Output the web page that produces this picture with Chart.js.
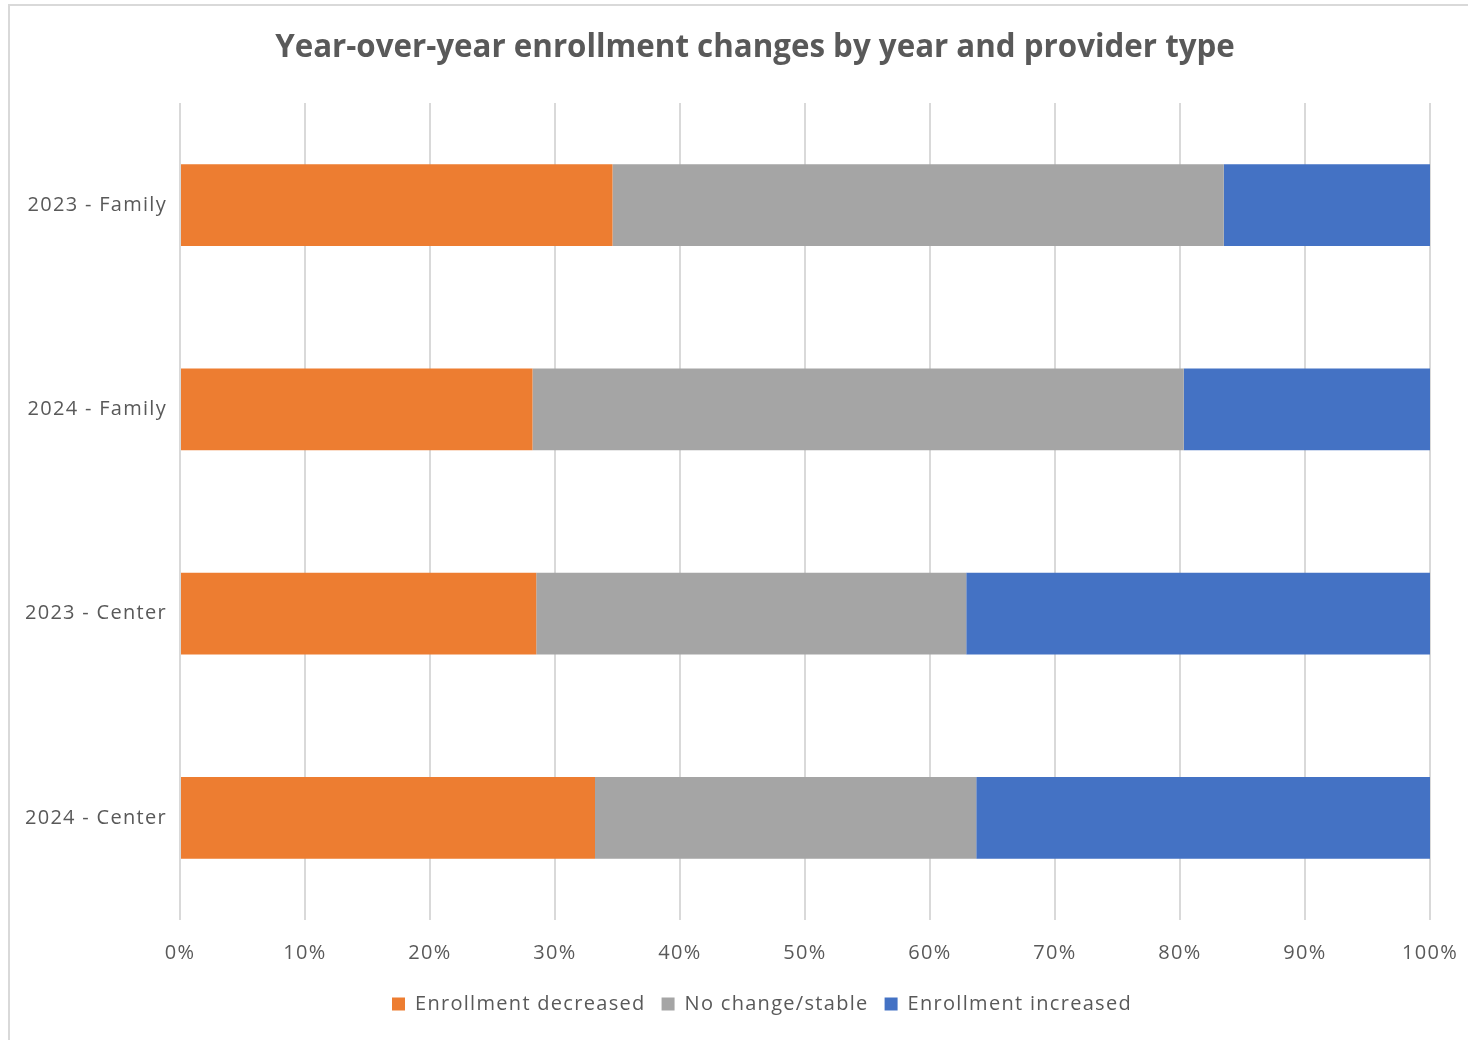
<!DOCTYPE html>
<html>
<head>
<meta charset="utf-8">
<title>Year-over-year enrollment changes</title>
<script src="https://cdn.jsdelivr.net/npm/chart.js@4/dist/chart.umd.min.js"></script>
<style>
  html, body { margin: 0; padding: 0; background: #fff; }
  #wrap { position: relative; width: 1468px; height: 1040px; }
</style>
</head>
<body>
<div id="wrap"><canvas id="chart"></canvas></div>
<script>
// categories (top to bottom)
const categorias = ["2023 - Family", "2024 - Family", "2023 - Center", "2024 - Center"];

// share of providers in each group, %
const disminuyo = [34.6, 28.2, 28.5, 33.2];
const estable = [48.9, 52.1, 34.4, 30.5];
const aumento = [16.5, 19.7, 37.1, 36.3];

const ticksX = [0, 10, 20, 30, 40, 50, 60, 70, 80, 90, 100];

const TITULO = "Year-over-year enrollment changes by year and provider type";
const GRIS_TEXTO = "#595959";
const FUENTE = "'Open Sans', 'Liberation Sans', sans-serif";
const ESPACIADO = "1.3px";

// marco gris claro, espaciado de letras, título y leyenda centrada en el marco
const marco = {
    id: "marco",
    beforeUpdate(chart) {
        chart.ctx.letterSpacing = ESPACIADO;
    },
    afterLayout(chart) {
        const leyenda = chart.legend;
        leyenda.left += 47;
        leyenda.right += 47;
    },
    beforeDraw(chart) {
        const ctx = chart.ctx;
        ctx.letterSpacing = ESPACIADO;
        ctx.save();
        ctx.fillStyle = "#fff";
        ctx.fillRect(0, 0, chart.width, chart.height);
        ctx.strokeStyle = "#d9d9d9";
        ctx.lineWidth = 2;
        ctx.strokeRect(9, 5, chart.width + 20, chart.height + 20);
        ctx.restore();
    },
    afterDraw(chart) {
        const ctx = chart.ctx;
        ctx.save();
        ctx.letterSpacing = "0px";
        ctx.fillStyle = GRIS_TEXTO;
        ctx.font = "bold 31.3px " + FUENTE;
        ctx.textAlign = "center";
        ctx.textBaseline = "middle";
        ctx.fillText(TITULO, 755, 48);
        ctx.restore();
    }
};

new Chart(document.getElementById("chart"), {
    type: "bar",
    data: {
        labels: categorias,
        datasets: [
            { label: "Enrollment decreased", data: disminuyo, backgroundColor: "#ED7D31" },
            { label: "No change/stable", data: estable, backgroundColor: "#A5A5A5" },
            { label: "Enrollment increased", data: aumento, backgroundColor: "#4472C4" }
        ]
    },
    options: {
        indexAxis: "y",
        responsive: true,
        maintainAspectRatio: false,
        animation: false,
        layout: { padding: { left: 0, right: 38, top: 103, bottom: 16 } },
        datasets: {
            bar: { categoryPercentage: 1, barPercentage: 0.4, borderWidth: 0 }
        },
        plugins: {
            title: { display: false },
            legend: {
                position: "bottom",
                labels: {
                    color: GRIS_TEXTO,
                    font: { family: FUENTE, size: 20 },
                    boxWidth: 13,
                    boxHeight: 13,
                    padding: 16
                }
            },
            tooltip: { enabled: false }
        },
        scales: {
            x: {
                stacked: true,
                min: 0,
                max: 100,
                afterBuildTicks: axis => {
                    axis.ticks = ticksX.map(v => ({ value: v }));
                },
                afterFit: axis => {
                    axis.height = 58;
                    axis.paddingLeft = 0;
                    axis.paddingRight = 0;
                },
                grid: { color: "#d9d9d9", lineWidth: 2, drawTicks: false },
                border: { display: false },
                ticks: {
                    color: GRIS_TEXTO,
                    font: { family: FUENTE, size: 20 },
                    padding: 21,
                    maxRotation: 0,
                    callback: v => v + "%"
                }
            },
            y: {
                stacked: true,
                afterFit: axis => { axis.width = 180; },
                grid: { display: false },
                border: { display: false },
                ticks: {
                    color: GRIS_TEXTO,
                    font: { family: FUENTE, size: 20 },
                    padding: 5
                }
            }
        }
    },
    plugins: [marco]
});
</script>
</body>
</html>
